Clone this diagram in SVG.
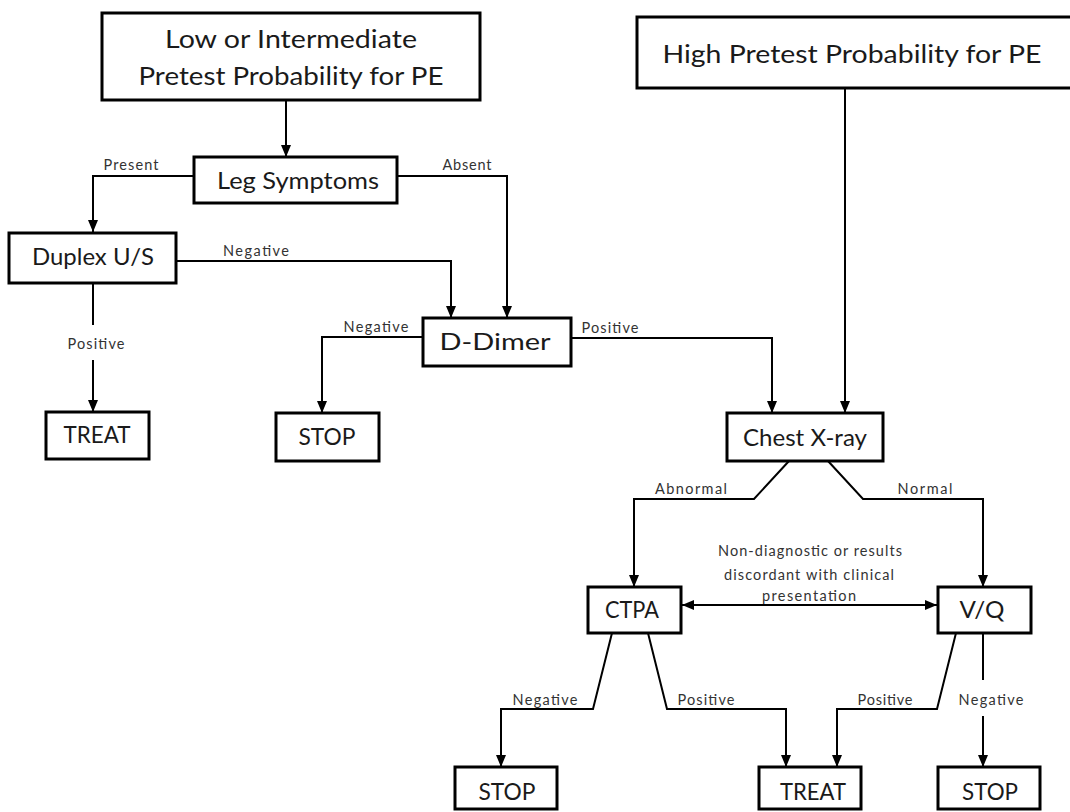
<svg xmlns="http://www.w3.org/2000/svg" width="1070" height="812" viewBox="0 0 1070 812">
  <style>
    .box { fill: #ffffff; stroke: #000000; stroke-width: 3; }
    .edge { fill: none; stroke: #000000; stroke-width: 2; }
    .big { font-family: Lato, "Liberation Sans", sans-serif; font-size: 25px; fill: #1a1a1a; text-anchor: middle; }
    .node { font-family: Lato, "Liberation Sans", sans-serif; font-size: 24px; fill: #1a1a1a; text-anchor: middle; }
    .lbl { font-family: Lato, "Liberation Sans", sans-serif; font-size: 14.5px; fill: #333333; text-anchor: middle; }
  </style>
  <defs>
    <marker id="arrow" markerUnits="userSpaceOnUse" markerWidth="12" markerHeight="10" refX="12" refY="5" orient="auto-start-reverse">
      <path d="M0,0 L12,5 L0,10 Z" fill="#000000"/>
    </marker>
  </defs>

  <rect width="1070" height="812" fill="#ffffff"/>

  <!-- connectors and their labels -->
  <g id="connectors">
    <path class="edge" d="M286,100 V157" marker-end="url(#arrow)"/>
    <path class="edge" d="M194,176 H93 V232" marker-end="url(#arrow)"/>
    <path class="edge" d="M397,176 H507 V318" marker-end="url(#arrow)"/>
    <path class="edge" d="M176,261 H451 V318" marker-end="url(#arrow)"/>
    <path class="edge" d="M93,283 V325"/>
    <path class="edge" d="M93,360 V412" marker-end="url(#arrow)"/>
    <path class="edge" d="M423,337 H322 V413" marker-end="url(#arrow)"/>
    <path class="edge" d="M571,338 H772 V413" marker-end="url(#arrow)"/>
    <path class="edge" d="M845,88 V413" marker-end="url(#arrow)"/>
    <path class="edge" d="M789,461 L754,499 H634 V587" marker-end="url(#arrow)"/>
    <path class="edge" d="M828,461 L863,499 H983 V587" marker-end="url(#arrow)"/>
    <path class="edge" d="M682,605 H937" marker-start="url(#arrow)" marker-end="url(#arrow)"/>
    <path class="edge" d="M612,633 L593,709 H501 V767" marker-end="url(#arrow)"/>
    <path class="edge" d="M648,633 L667,709 H786 V767" marker-end="url(#arrow)"/>
    <path class="edge" d="M956,633 L937,709 H837 V767" marker-end="url(#arrow)"/>
    <path class="edge" d="M983,633 V680"/>
    <path class="edge" d="M983,716 V767" marker-end="url(#arrow)"/>

    <text class="lbl" x="131" y="170" textLength="55">Present</text>
    <text class="lbl" x="467" y="170" textLength="49">Absent</text>
    <text class="lbl" x="256" y="256" textLength="66">Negative</text>
    <text class="lbl" x="96" y="349" textLength="57">Positive</text>
    <text class="lbl" x="376" y="332" textLength="65">Negative</text>
    <text class="lbl" x="610" y="333" textLength="57">Positive</text>
    <text class="lbl" x="691" y="494" textLength="72">Abnormal</text>
    <text class="lbl" x="925" y="494" textLength="55">Normal</text>
    <text class="lbl" x="810" y="556" textLength="184">Non-diagnostic or results</text>
    <text class="lbl" x="809" y="580" textLength="170">discordant with clinical</text>
    <text class="lbl" x="809" y="601" textLength="94">presentation</text>
    <text class="lbl" x="545" y="705" textLength="65">Negative</text>
    <text class="lbl" x="706" y="705" textLength="57">Positive</text>
    <text class="lbl" x="885" y="705" textLength="55">Positive</text>
    <text class="lbl" x="991" y="705" textLength="65">Negative</text>
  </g>

  <g id="low-intermediate">
    <rect class="box" x="102" y="13" width="378" height="87"/>
    <text class="big" x="291" y="48" textLength="252" lengthAdjust="spacingAndGlyphs">Low or Intermediate</text>
    <text class="big" x="291" y="85" textLength="305" lengthAdjust="spacingAndGlyphs">Pretest Probability for PE</text>
  </g>
  <g id="high">
    <rect class="box" x="637" y="17" width="445" height="71"/>
    <text class="big" x="852" y="63" textLength="379" lengthAdjust="spacingAndGlyphs">High Pretest Probability for PE</text>
  </g>
  <g id="leg-symptoms">
    <rect class="box" x="194" y="157" width="203" height="46"/>
    <text class="node" x="298" y="189" textLength="162" lengthAdjust="spacingAndGlyphs">Leg Symptoms</text>
  </g>
  <g id="duplex">
    <rect class="box" x="9" y="233" width="167" height="50"/>
    <text class="node" x="93" y="265" textLength="122" lengthAdjust="spacingAndGlyphs">Duplex U/S</text>
  </g>
  <g id="d-dimer">
    <rect class="box" x="423" y="318" width="148" height="48"/>
    <text class="node" x="495" y="350" textLength="111" lengthAdjust="spacingAndGlyphs">D-Dimer</text>
  </g>
  <g id="treat-left">
    <rect class="box" x="46" y="412" width="103" height="47"/>
    <text class="node" x="97" y="443" textLength="67" lengthAdjust="spacingAndGlyphs">TREAT</text>
  </g>
  <g id="stop-left">
    <rect class="box" x="276" y="413" width="103" height="48"/>
    <text class="node" x="327" y="445" textLength="57" lengthAdjust="spacingAndGlyphs">STOP</text>
  </g>
  <g id="chest-xray">
    <rect class="box" x="727" y="413" width="156" height="48"/>
    <text class="node" x="805" y="446" textLength="124" lengthAdjust="spacingAndGlyphs">Chest X-ray</text>
  </g>
  <g id="ctpa">
    <rect class="box" x="588" y="587" width="93" height="46"/>
    <text class="node" x="632" y="618" textLength="54" lengthAdjust="spacingAndGlyphs">CTPA</text>
  </g>
  <g id="vq">
    <rect class="box" x="938" y="587" width="93" height="46"/>
    <text class="node" x="982" y="618" textLength="45" lengthAdjust="spacingAndGlyphs">V/Q</text>
  </g>
  <g id="stop-ctpa">
    <rect class="box" x="455" y="767" width="102" height="42"/>
    <text class="node" x="507" y="800" textLength="57" lengthAdjust="spacingAndGlyphs">STOP</text>
  </g>
  <g id="treat-bottom">
    <rect class="box" x="759" y="767" width="102" height="42"/>
    <text class="node" x="813" y="800" textLength="66" lengthAdjust="spacingAndGlyphs">TREAT</text>
  </g>
  <g id="stop-vq">
    <rect class="box" x="938" y="767" width="102" height="42"/>
    <text class="node" x="990" y="800" textLength="56" lengthAdjust="spacingAndGlyphs">STOP</text>
  </g>
</svg>
